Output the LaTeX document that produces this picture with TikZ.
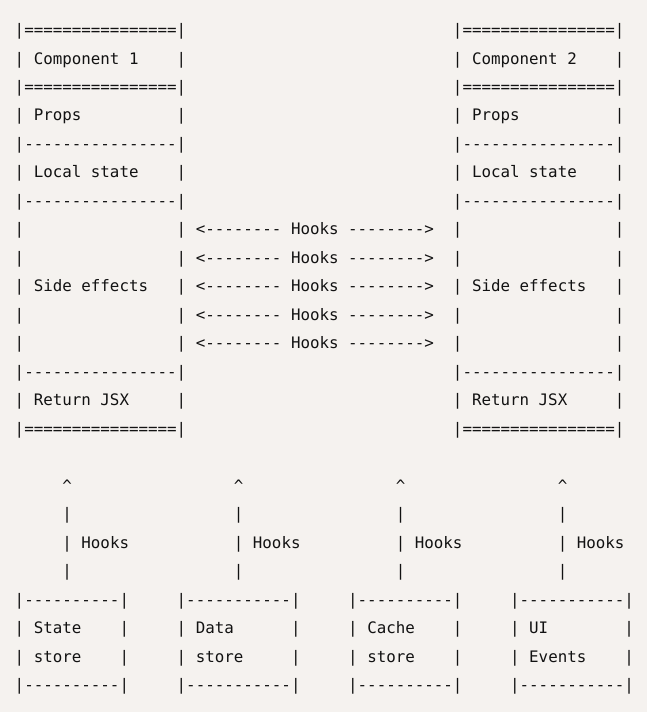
\documentclass[tikz,border=0pt]{standalone}
\usepackage{fontspec}
\setmonofont{DejaVu Sans Mono}
\definecolor{paper}{RGB}{245,242,239}
\definecolor{ink}{RGB}{18,18,18}
\tikzset{
  ascii/.style={font=\ttfamily\fontsize{11.87}{14}\selectfont, text=ink, anchor=west,
    inner sep=0pt, text height=.76em, text depth=.24em},
}
\begin{document}
\begin{tikzpicture}[x=7.1475pt, y=-21.375pt]
\fill[paper] (-1.52,-1.125) rectangle (66.37,23.865);
\useasboundingbox (-1.52,-1.125) rectangle (66.37,23.865);

% component blocks
\foreach \c/\k in {0/1, 46/2} {
  \node[ascii] (top\k) at (\c,0) {|================|};
  \node[ascii] (mid\k) at (\c,2) {|================|};
  \node[ascii] (bot\k) at (\c,14) {|================|};
  \foreach \r in {4,6,12}
    \node[ascii] (sep\k-\r) at (\c,\r) {|----------------|};
  \foreach \r in {1,3,5,7,8,9,10,11,13} {
    \node[ascii] (l\k-\r) at (\c,\r) {|};
    \node[ascii] (r\k-\r) at (\c+17,\r) {|};
  }
  \node[ascii] (name\k) at (\c+2,1) {Component \k};
  \node[ascii] (props\k) at (\c+2,3) {Props};
  \node[ascii] (local\k) at (\c+2,5) {Local state};
  \node[ascii] (side\k) at (\c+2,9) {Side effects};
  \node[ascii] (jsx\k) at (\c+2,13) {Return JSX};
}

% hooks between the components
\foreach \r in {7,...,11} {
  \node[ascii] (la\r) at (19,\r) {<--------};
  \node[ascii] (hk\r) at (29,\r) {Hooks};
  \node[ascii] (ra\r) at (35,\r) {-------->};
}

% hooks from the stores
\foreach \c/\n in {5/a, 23/b, 40/c, 57/d} {
  \node[ascii] (up\n) at (\c,16) {\textasciicircum};
  \node[ascii] (ua\n) at (\c,17) {|};
  \node[ascii] (ub\n) at (\c,18) {|};
  \node[ascii] (uh\n) at (\c+2,18) {Hooks};
  \node[ascii] (uc\n) at (\c,19) {|};
}

% stores
\foreach \c/\e/\n/\one/\two/\d in {0/11/a/State/store/----------,
    17/29/b/Data/store/-----------, 35/46/c/Cache/store/----------,
    52/64/d/UI/Events/-----------} {
  \node[ascii] (st\n) at (\c,20) {|\d|};
  \node[ascii] (sb\n) at (\c,23) {|\d|};
  \foreach \r in {21,22} {
    \node[ascii] (sl\n-\r) at (\c,\r) {|};
    \node[ascii] (sr\n-\r) at (\e,\r) {|};
  }
  \node[ascii] (so\n) at (\c+2,21) {\one};
  \node[ascii] (sw\n) at (\c+2,22) {\two};
}
\end{tikzpicture}
\end{document}
